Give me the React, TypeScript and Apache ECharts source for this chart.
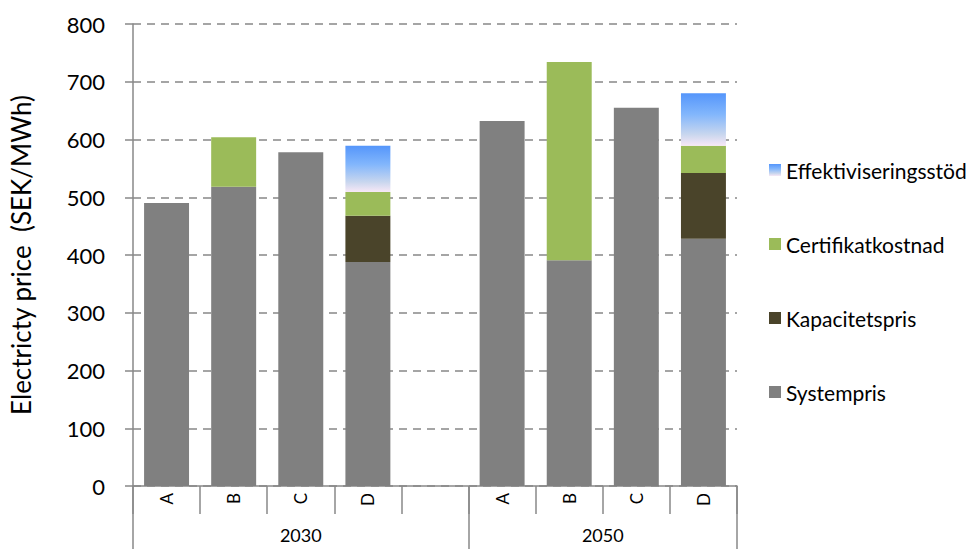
import React, { useEffect, useRef } from "react";
import * as echarts from "echarts";

// Scenario categories (the empty slot separates the two years)
const categories = ["A", "B", "C", "D", "", "A", "B", "C", "D"];
const yearLabels = ["2030", "2050"];

// Price components, SEK/MWh
const systempris = [490, 518, 578, 388, null, 632, 391, 655, 428];
const kapacitetspris = [0, 0, 0, 80, null, 0, 0, 0, 114];
const certifikatkostnad = [0, 86, 0, 41, null, 0, 343, 0, 47];
const effektiviseringsstod = [0, 0, 0, 80, null, 0, 0, 0, 91];

const yTicks = { min: 0, max: 800, interval: 100 };

const FONT = "Lato, 'Open Sans', sans-serif";

export default function App() {
  const ref = useRef<HTMLDivElement>(null);

  useEffect(() => {
    if (!ref.current) return;
    const chart = echarts.init(ref.current, null, { renderer: "svg" });

    const effGradient = new echarts.graphic.LinearGradient(0, 0, 0, 1, [
      { offset: 0, color: "#5596FB" },
      { offset: 0.4, color: "#82B6FC" },
      { offset: 0.78, color: "#C8D6EE" },
      { offset: 1, color: "#F8E8F6" },
    ]);

    const bar = (name: string, data: (number | null)[], color: any) => ({
      name,
      type: "bar",
      stack: "total",
      xAxisIndex: 0,
      barCategoryGap: "33%",
      data,
      itemStyle: { color },
    });

    chart.setOption({
      animation: false,
      backgroundColor: "#ffffff",
      textStyle: { fontFamily: FONT },
      grid: { left: 132, right: 241, top: 24, bottom: 63, containLabel: false },
      legend: {
        orient: "vertical",
        left: 764,
        top: 154,
        itemWidth: 12,
        itemHeight: 12,
        itemGap: 52,
        icon: "rect",
        data: ["Effektiviseringsstöd", "Certifikatkostnad", "Kapacitetspris", "Systempris"],
        textStyle: { fontFamily: FONT, fontSize: 21, lineHeight: 22, color: "#000" },
      },
      xAxis: [
        {
          type: "category",
          data: categories,
          position: "bottom",
          axisLine: { show: true, lineStyle: { color: "#888888", width: 1.5 } },
          axisTick: { show: true, interval: 0, length: 28, lineStyle: { color: "#888888", width: 1.5 } },
          axisLabel: {
            interval: 0,
            rotate: 90,
            margin: 7,
            fontSize: 17,
            color: "#000",
            fontFamily: FONT,
          },
          splitLine: { show: false },
        },
        {
          // Second label row: one span per year across its scenario slots
          type: "value",
          min: 0,
          max: 9,
          position: "bottom",
          axisLine: { show: false },
          axisTick: {
            show: true,
            length: 63,
            customValues: [0, 5, 9],
            lineStyle: { color: "#888888", width: 1.5 },
          },
          axisLabel: {
            show: true,
            customValues: [2.5, 7],
            formatter: (v: number) => (v < 5 ? yearLabels[0] : yearLabels[1]),
            margin: 40,
            fontSize: 18,
            color: "#000",
            fontFamily: FONT,
          },
          splitLine: { show: false },
        },
      ],
      yAxis: {
        type: "value",
        min: yTicks.min,
        max: yTicks.max,
        interval: yTicks.interval,
        name: "Electricty price  (SEK/MWh)",
        nameLocation: "middle",
        nameGap: 99,
        nameRotate: 90,
        nameTextStyle: { fontSize: 26, color: "#000", fontFamily: FONT },
        axisLine: { show: true, lineStyle: { color: "#888888", width: 1.5 } },
        axisTick: { show: true, length: 8, inside: false, lineStyle: { color: "#888888", width: 1.5 } },
        axisLabel: { margin: 28, fontSize: 22, color: "#000", fontFamily: FONT },
        splitLine: {
          show: true,
          lineStyle: { color: "#888888", width: 1.5, type: [8, 6] },
        },
      },
      series: [
        bar("Systempris", systempris, "#808080"),
        bar("Kapacitetspris", kapacitetspris, "#4A442A"),
        bar("Certifikatkostnad", certifikatkostnad, "#9BBB59"),
        bar("Effektiviseringsstöd", effektiviseringsstod, effGradient),
      ],
    });

    return () => chart.dispose();
  }, []);

  return <div ref={ref} style={{ width: 978, height: 549, position: "absolute", left: 0, top: 0 }} />;
}
